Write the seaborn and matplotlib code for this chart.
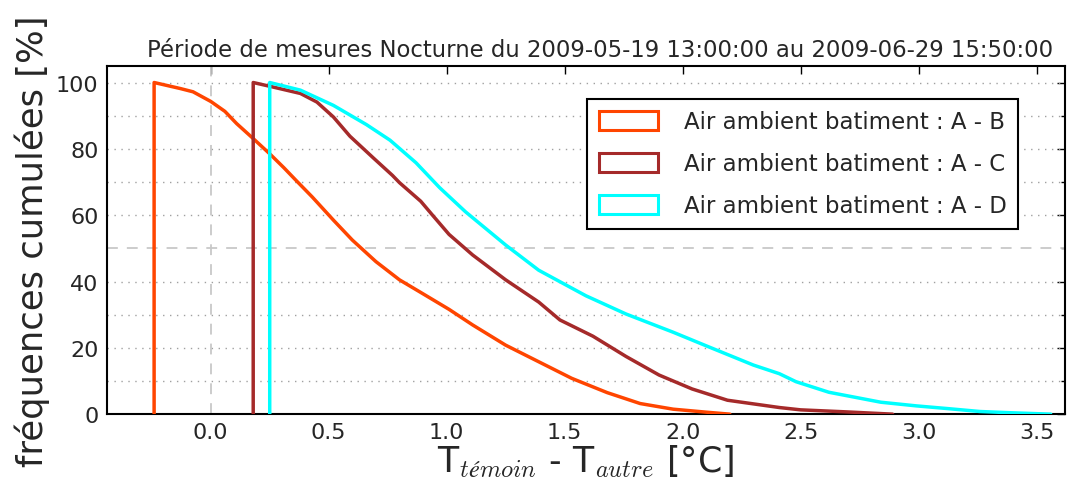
import matplotlib
matplotlib.use("Agg")
import matplotlib.pyplot as plt
from matplotlib.patches import Patch
from matplotlib.ticker import MultipleLocator
import seaborn as sns
import pandas as pd

# ---- data ----
ab_x = [-0.24, -0.24, -0.13, -0.075, 0.0, 0.06, 0.11, 0.18, 0.25, 0.31, 0.36, 0.43, 0.52,
        0.60, 0.70, 0.80, 0.89, 1.01, 1.11, 1.25, 1.39, 1.53, 1.68, 1.82, 1.96, 2.10, 2.20]
ab_y = [0, 100, 98.2, 97.2, 94.3, 91.3, 87.6, 83.1, 78.5, 74.3, 70.6, 65.5, 58.5,
        52.5, 46.0, 40.5, 36.7, 31.6, 26.9, 20.8, 15.8, 10.8, 6.5, 3.2, 1.5, 0.6, 0]

ac_x = [0.18, 0.18, 0.26, 0.38, 0.45, 0.52, 0.59, 0.69, 0.77, 0.80, 0.89, 0.94, 1.01,
        1.11, 1.25, 1.39, 1.48, 1.62, 1.76, 1.90, 2.04, 2.19, 2.41, 2.50, 2.69, 2.89]
ac_y = [0, 100, 98.7, 96.7, 94.1, 89.6, 83.8, 77.2, 72.0, 69.8, 64.2, 60.0, 54.2,
        48.0, 40.5, 33.8, 28.4, 23.5, 17.4, 11.8, 7.6, 4.2, 2.0, 1.3, 0.7, 0]

ad_x = [0.25, 0.25, 0.38, 0.52, 0.66, 0.76, 0.87, 0.97, 1.08, 1.25, 1.39, 1.59, 1.76,
        1.96, 2.10, 2.30, 2.41, 2.48, 2.62, 2.84, 2.99, 3.12, 3.26, 3.40, 3.56]
ad_y = [0, 100, 97.7, 93.1, 87.3, 82.6, 75.8, 68.3, 61.0, 51.0, 43.4, 35.7, 30.2,
        24.7, 20.6, 14.8, 12.2, 9.8, 6.6, 3.6, 2.5, 1.7, 0.8, 0.4, 0]

series_labels = ["Air ambient batiment : A - B",
                 "Air ambient batiment : A - C",
                 "Air ambient batiment : A - D"]
series_colors = ["#FF4500", "#A52A2A", "#00FFFF"]
x_ticks = [0.0, 0.5, 1.0, 1.5, 2.0, 2.5, 3.0, 3.5]
y_ticks = [0, 20, 40, 60, 80, 100]

title = "Période de mesures Nocturne du 2009-05-19 13:00:00 au 2009-06-29 15:50:00"

# ---- plot ----
sns.set_style("white")
plt.rcParams["font.family"] = ["DejaVu Sans"]
plt.rcParams["mathtext.fontset"] = "cm"

fig = plt.figure(figsize=(10.8, 4.85), dpi=100)
ax = fig.add_axes([0.099, 0.144, 0.887, 0.718])

for xs, ys, lab, col in zip([ab_x, ac_x, ad_x], [ab_y, ac_y, ad_y], series_labels, series_colors):
    df = pd.DataFrame({"x": xs, "y": ys})
    sns.lineplot(data=df, x="x", y="y", sort=False, estimator=None, color=col,
                 linewidth=2.5, ax=ax, zorder=3)

# grid: dotted horizontal lines every 10, dashed at 50 and x=0
for yv in range(10, 101, 10):
    if yv == 50:
        continue
    ax.axhline(yv, color="#a0a0a0", linestyle=(0, (1, 4)), linewidth=1.0, zorder=1)
ax.axhline(50, color="#c8c8c8", linestyle=(0, (6, 5)), linewidth=1.3, zorder=1)
ax.axvline(0, color="#c8c8c8", linestyle=(0, (6, 5)), linewidth=1.3, zorder=1)

ax.set_xlim(-0.44, 3.62)
ax.set_ylim(0, 105)
ax.set_xticks(x_ticks)
ax.set_xticklabels([f"{v:.1f}" for v in x_ticks], fontsize=16)
ax.set_yticks(y_ticks)
ax.set_yticklabels([str(v) for v in y_ticks], fontsize=16)
ax.yaxis.set_minor_locator(MultipleLocator(10))
ax.tick_params(axis="both", which="both", direction="in", top=True, right=True,
               length=6, width=1, color="black")
ax.tick_params(axis="y", which="minor", length=3)
ax.tick_params(axis="x", pad=6)
ax.tick_params(axis="y", pad=6)

for s in ax.spines.values():
    s.set_visible(True)
    s.set_color("black")
    s.set_linewidth(1.5)

ax.set_xlabel("T$_{témoin}$ - T$_{autre}$ [°C]", fontsize=25, labelpad=0)
ax.set_ylabel("fréquences cumulées [%]", fontsize=25.5, labelpad=4)
ax.set_title(title, fontsize=16.4, pad=7, x=0.515)

handles = [Patch(facecolor="none", edgecolor=c, linewidth=2.2) for c in series_colors]
leg = ax.legend(handles, series_labels, loc="upper right", bbox_to_anchor=(0.951, 0.905),
                fontsize=16.5, frameon=True, fancybox=False, handlelength=2.6, handleheight=0.9,
                handletextpad=1.1, labelspacing=0.82, borderpad=0.5, borderaxespad=0)
leg.get_frame().set_edgecolor("black")
leg.get_frame().set_linewidth(1.5)
leg.get_frame().set_alpha(1)

fig.savefig("out.png", dpi=100)
